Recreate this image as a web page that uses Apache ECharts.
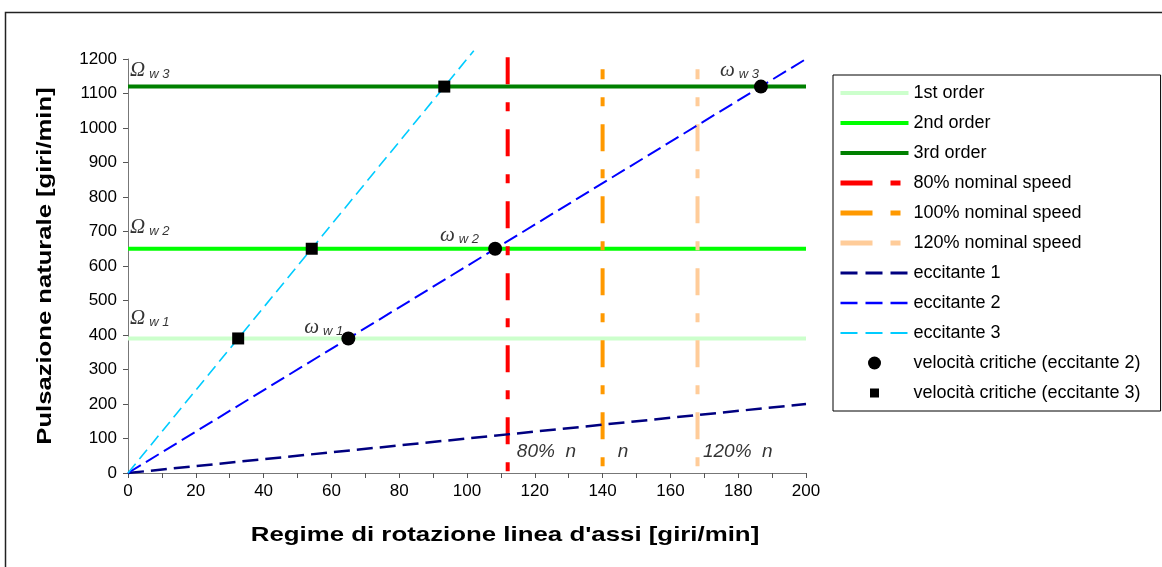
<!DOCTYPE html>
<html>
<head>
<meta charset="utf-8">
<script src="https://cdn.jsdelivr.net/npm/echarts@6/dist/echarts.min.js"></script>
<style>
  html, body { margin: 0; padding: 0; background: #fff; }
  #chart { width: 1162px; height: 567px; }
</style>
</head>
<body>
<div id="chart"></div>
<script>
// values
var orderNames = ['1st order', '2nd order', '3rd order'];
var orderValues = [390, 650, 1120];
var speedNames = ['80% nominal speed', '100% nominal speed', '120% nominal speed'];
var speedX = [112, 140, 168];
var speedTop = [1205, 1170, 1170];
var eccNames = ['eccitante 1', 'eccitante 2', 'eccitante 3'];
var eccEnds = [[200, 200], [200, 1200], [102, 1224]];
var critNames = ['velocità critiche (eccitante 2)', 'velocità critiche (eccitante 3)'];
var critical2 = [[65, 390], [108.3, 650], [186.7, 1120]];
var critical3 = [[32.5, 390], [54.2, 650], [93.3, 1120]];
var omegaLabels = [
    [0.6, 1168, 'O', 'w 3'], [0.6, 712, 'O', 'w 2'], [0.6, 450, 'O', 'w 1'],
    [52, 424, 'o', 'w 1'], [92, 690, 'o', 'w 2'], [174.6, 1168, 'o', 'w 3']
];
var speedLabels = [[114.7, 61, '80%  n'], [144.5, 61, 'n'], [169.6, 61, '120%  n']];

var orderColors = ['#ccffcc', '#00ff00', '#008000'];
var speedColors = ['#ff0000', '#ff9900', '#ffcc99'];
var speedOffset = [0, 17, 17];
var eccColors = ['#000080', '#0000ff', '#00ccff'];
var eccWidth = [2.5, 2, 1.6];
var eccDash = [[16, 7], [15, 6], [12, 6]];

var sans = 'Liberation Sans, Arial, sans-serif';
var series = [];
var legendData = [];

orderNames.forEach(function (n, i) {
    series.push({
        name: n, type: 'line', symbol: 'none', silent: true,
        lineStyle: { color: orderColors[i], width: 4 },
        itemStyle: { color: orderColors[i] },
        data: [[0, orderValues[i]], [200, orderValues[i]]]
    });
    legendData.push({ name: n, itemStyle: { opacity: 0 }, lineStyle: { width: 4 } });
});
speedNames.forEach(function (n, i) {
    series.push({
        name: n, type: 'line', symbol: 'none', silent: true, clip: false,
        lineStyle: { color: speedColors[i], width: 4, type: [27, 18, 9, 18], dashOffset: speedOffset[i], cap: 'butt' },
        itemStyle: { color: speedColors[i] },
        data: [[speedX[i], speedTop[i]], [speedX[i], 0]]
    });
    legendData.push({ name: n, itemStyle: { opacity: 0 }, lineStyle: { width: 5, type: [32, 18, 10, 18], dashOffset: 0 } });
});
eccNames.forEach(function (n, i) {
    series.push({
        name: n, type: 'line', symbol: 'none', silent: true, clip: false,
        lineStyle: { color: eccColors[i], width: eccWidth[i], type: eccDash[i] },
        itemStyle: { color: eccColors[i] },
        data: [[0, 0], eccEnds[i]]
    });
    legendData.push({ name: n, itemStyle: { opacity: 0 }, lineStyle: { width: eccWidth[i] + 0.5, type: [17, 8] } });
});
series.push({
    name: critNames[0], type: 'scatter', symbol: 'circle', symbolSize: 14,
    itemStyle: { color: '#000', opacity: 1 }, data: critical2, z: 5
});
series.push({
    name: critNames[1], type: 'scatter', symbol: 'rect', symbolSize: 12,
    itemStyle: { color: '#000', opacity: 1 }, data: critical3, z: 5
});
legendData.push({ name: critNames[0], icon: 'path://M0,0M68,16M27.5,8a6.5,6.5 0 1,0 13,0a6.5,6.5 0 1,0 -13,0z' });
legendData.push({ name: critNames[1], icon: 'path://M0,0M68,16M29.5,3.5h9v9h-9z' });

series.push({
    type: 'scatter', symbolSize: 0, silent: true, z: 6,
    data: omegaLabels,
    label: {
        show: true, position: 'right', distance: 0,
        formatter: function (p) {
            var g = p.data[2] === 'O' ? 'Ω' : 'ω';
            return '{a|' + g + '}{b|' + p.data[3] + '}';
        },
        rich: {
            a: { fontFamily: 'Liberation Serif, Times New Roman, serif', fontStyle: 'italic', fontSize: 21, color: '#000', verticalAlign: 'bottom', lineHeight: 22 },
            b: { fontFamily: sans, fontStyle: 'italic', fontSize: 13, color: '#000', verticalAlign: 'bottom', lineHeight: 15, padding: [0, 0, 0, 4] }
        }
    }
});
series.push({
    type: 'scatter', symbolSize: 0, silent: true, z: 6,
    data: speedLabels,
    label: {
        show: true, position: 'right', distance: 0,
        formatter: function (p) { return p.data[2]; },
        fontFamily: sans, fontStyle: 'italic', fontSize: 19, color: '#000'
    }
});

var option = {
    animation: false,
    backgroundColor: '#fff',
    graphic: [{
        type: 'rect', left: 3, top: 10, shape: { width: 1200, height: 600 },
        style: { fill: 'none', stroke: '#222', lineWidth: 1.5 }, silent: true
    }, {
        type: 'text', x: 505, y: 535, scaleX: 1.23, silent: true,
        style: { text: "Regime di rotazione linea d'assi [giri/min]", font: 'bold 21px ' + sans, fill: '#000', align: 'center', verticalAlign: 'middle' }
    }, {
        type: 'text', x: 45, y: 266, rotation: Math.PI / 2, scaleX: 1.22, silent: true,
        style: { text: 'Pulsazione naturale [giri/min]', font: 'bold 21px ' + sans, fill: '#000', align: 'center', verticalAlign: 'middle' }
    }],
    grid: { left: 128, right: 356, top: 59, bottom: 94 },
    legend: {
        data: legendData, orient: 'vertical', left: 833, top: 75,
        itemWidth: 68, itemHeight: 16, itemGap: 12,
        padding: [9, 20, 9, 5],
        borderColor: '#000', borderWidth: 1, backgroundColor: '#fff',
        textStyle: { fontFamily: sans, fontSize: 18, color: '#000', lineHeight: 16 },
        selectedMode: false
    },
    xAxis: {
        type: 'value', min: 0, max: 200, interval: 20,
        axisLine: { lineStyle: { color: '#777', width: 1 } },
        axisTick: { show: true, length: 5, lineStyle: { color: '#555' } },
        minorTick: { show: true, splitNumber: 2, length: 5, lineStyle: { color: '#555' } },
        axisLabel: { fontFamily: sans, fontSize: 17, color: '#000', margin: 10 },
        splitLine: { show: false }
    },
    yAxis: {
        type: 'value', min: 0, max: 1200, interval: 100,
        axisLine: { show: true, lineStyle: { color: '#777', width: 1 } },
        axisTick: { show: true, length: 5, lineStyle: { color: '#555' } },
        axisLabel: { fontFamily: sans, fontSize: 17, color: '#000', margin: 11, formatter: function (v) { return String(v); } },
        splitLine: { show: false }
    },
    series: series
};

var chart = echarts.init(document.getElementById('chart'));
chart.setOption(option);
</script>
</body>
</html>
